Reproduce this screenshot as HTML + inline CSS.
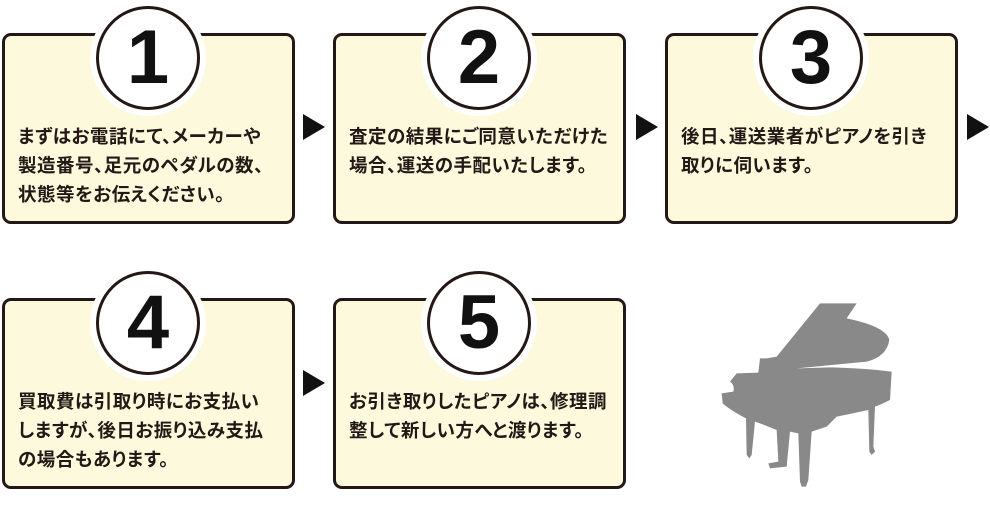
<!DOCTYPE html>
<html><head><meta charset="utf-8"><style>
body{margin:0;width:990px;height:510px;background:#fff;position:relative;overflow:hidden;font-family:"Liberation Sans","Noto Sans CJK JP",sans-serif}
.box{position:absolute;width:287px;height:185px;background:#fdf9dc;border:3px solid #231815;border-radius:9px;box-sizing:content-box}
.box p{position:absolute;left:13px;top:86px;margin:0;font-family:"Noto Sans CJK JP",sans-serif;font-size:18.5px;font-weight:bold;line-height:29px;color:#231815;white-space:nowrap;font-feature-settings:"palt";letter-spacing:0.5px}
.c{position:absolute;width:98px;height:98px;border:3px solid #231815;border-radius:50%;background:#fff;box-shadow:0 0 0 6px #fff;top:-30px;left:91px;text-align:center;font:bold 76px/98px "Liberation Sans",sans-serif;color:#111}
.ar{position:absolute;width:0;height:0;border-top:13px solid transparent;border-bottom:13px solid transparent;border-left:22px solid #111}
</style></head><body>
<div class="box" style="left:2px;top:33px"><div class="c">1</div><p>まずはお電話にて、メーカーや<br>製造番号、足元のペダルの数、<br>状態等をお伝えください。</p></div>
<div class="box" style="left:333px;top:33px"><div class="c">2</div><p>査定の結果にご同意いただけた<br>場合、運送の手配いたします。</p></div>
<div class="box" style="left:665px;top:33px"><div class="c">3</div><p>後日、運送業者がピアノを引き<br>取りに伺います。</p></div>
<div class="box" style="left:2px;top:298px"><div class="c">4</div><p>買取費は引取り時にお支払い<br>しますが、後日お振り込み支払<br>の場合もあります。</p></div>
<div class="box" style="left:333px;top:298px"><div class="c">5</div><p>お引き取りしたピアノは、修理調<br>整して新しい方へと渡ります。</p></div>
<div class="ar" style="left:303px;top:114px"></div>
<div class="ar" style="left:636px;top:114px"></div>
<div class="ar" style="left:967px;top:114px"></div>
<div class="ar" style="left:303px;top:370px"></div>
<svg style="position:absolute;left:680px;top:290px" width="240" height="210" viewBox="0 0 720 630">
<path fill="#898989" d="M420 40 L530 40 L500 85 Q620 110 628 150 Q620 200 560 215 L350 235 L450 232 Q560 235 635 245 L630 330 Q600 345 585 350 L580 470 L585 485 L575 495 L568 485 L565 360 Q520 370 470 380 L440 410 L395 425 L385 570 L378 590 L365 590 L360 575 L355 430 L330 425 L320 530 L270 535 L265 520 L295 515 L290 420 L240 400 L225 395 L215 495 L208 505 L200 495 L198 385 Q150 360 128 340 L125 310 L160 305 Q165 285 150 275 L170 250 L235 248 L240 205 L260 205 L290 200 Z"/>
</svg>
</body></html>
